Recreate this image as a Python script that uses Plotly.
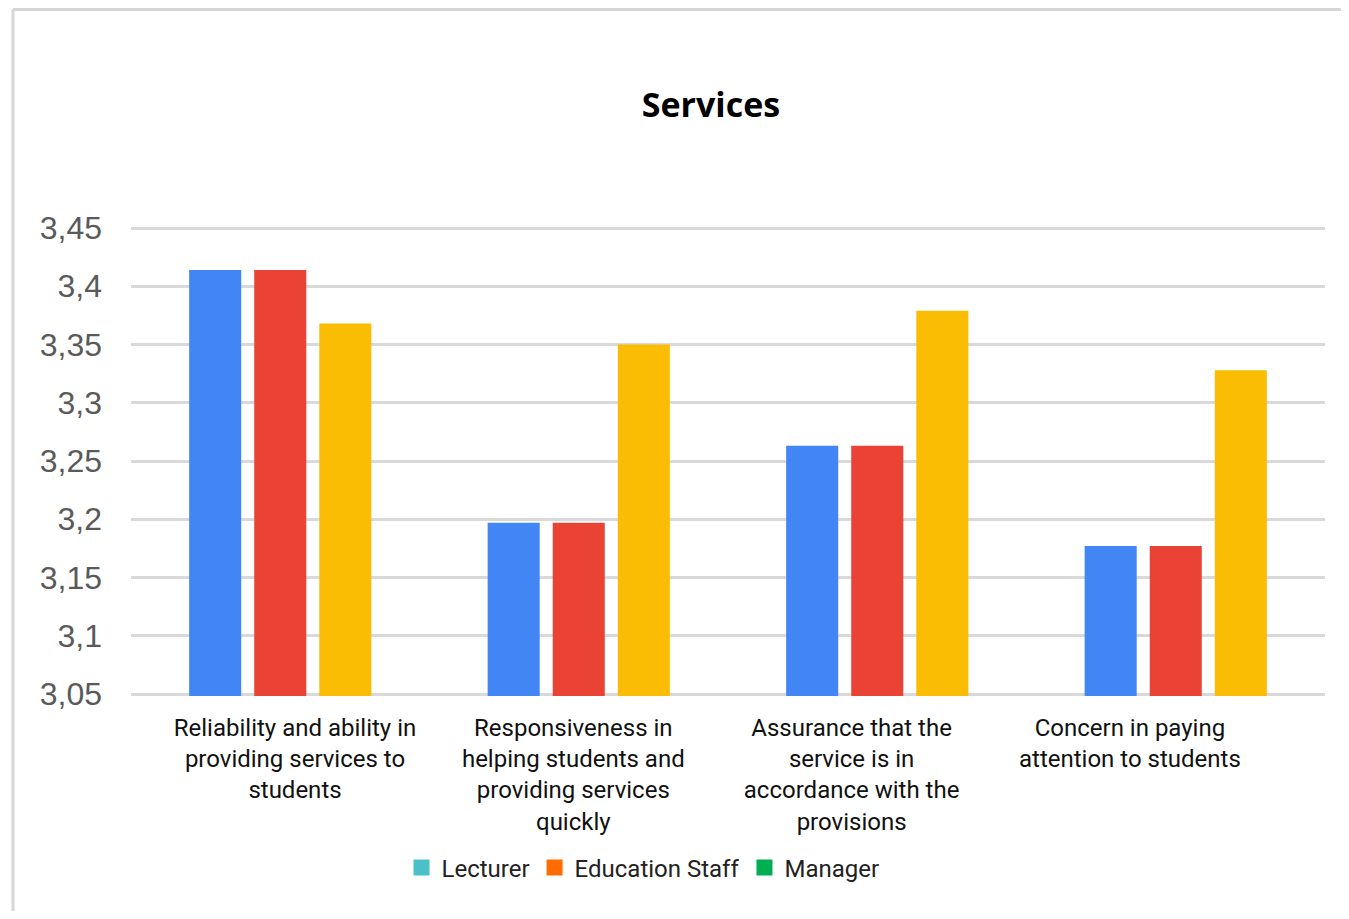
import plotly.graph_objects as go

categories = [
    "Reliability and ability in<br>providing services to<br>students",
    "Responsiveness in<br>helping students and<br>providing services<br>quickly",
    "Assurance that the<br>service is in<br>accordance with the<br>provisions",
    "Concern in paying<br>attention to students",
]
lecturer = [3.414, 3.197, 3.263, 3.177]
education_staff = [3.414, 3.197, 3.263, 3.177]
manager = [3.368, 3.350, 3.379, 3.328]

y_ticks = [3.05, 3.1, 3.15, 3.2, 3.25, 3.3, 3.35, 3.4, 3.45]
y_ticktext = ["3,05", "3,1", "3,15", "3,2", "3,25", "3,3", "3,35", "3,4", "3,45"]

series_names = ["Lecturer", "Education Staff", "Manager"]
bar_colors = ["#4285F4", "#EA4335", "#FBBC04"]
legend_colors = ["#4BC0C8", "#FF6D01", "#00B050"]

fig = go.Figure()
for name, vals, col in zip(series_names, [lecturer, education_staff, manager], bar_colors):
    fig.add_trace(go.Bar(x=categories, y=vals, name=name, marker_color=col,
                         marker_line_width=0, showlegend=False))

# legend swatches (colours differ from bars in the original)
for name, col in zip(series_names, legend_colors):
    fig.add_trace(go.Scatter(x=[None], y=[None], mode="markers", name=name,
                             marker=dict(symbol="square", size=16, color=col)))

# the category labels sit on their own even spacing, not under the bar groups
idx = list(range(len(categories)))
fig.add_trace(go.Scatter(x=idx, y=[None] * len(idx), xaxis="x2", mode="markers",
                         showlegend=False, hoverinfo="skip"))

# page body adds 8px, so work in shifted pixels
OFF = 8
FW, FH = 1349 - 2 * OFF, 919 - 2 * OFF
PAD = 2  # a little room so end gridlines are not clipped
L, T = 131 - OFF, 228 - OFF - PAD
W, H = 1194, 466 + 2 * PAD
def px(x): return (x - OFF - L) / W
def py(y): return (T + H - (y - OFF)) / H
pad_v = PAD * 0.4 / 466

lab0, lab_step = 295, 278.3
x2_range = [(131 - lab0) / lab_step, (131 + W - lab0) / lab_step]

# light frame round the chart
fig.add_shape(type="line", xref="paper", yref="paper", x0=px(13), x1=px(1360), y0=py(9.5), y1=py(9.5),
              line=dict(color="#d6d6d6", width=3))
fig.add_shape(type="line", xref="paper", yref="paper", x0=px(13), x1=px(13), y0=py(9.5), y1=py(930),
              line=dict(color="#d6d6d6", width=3))

fig.update_layout(
    width=FW, height=FH,
    margin=dict(l=L, r=FW - L - W, t=T, b=FH - T - H),
    paper_bgcolor="white", plot_bgcolor="white",
    barmode="group", bargap=0.346, bargroupgap=0.2,
    title=dict(text="<b>Services</b>", x=px(711), xref="paper", xanchor="center",
               y=1 - (105 - OFF) / FH, yanchor="middle",
               font=dict(family="Open Sans", size=34, color="black")),
    legend=dict(orientation="h", x=px(643), xanchor="center", y=py(868), yanchor="middle",
                font=dict(family="Roboto", size=24, color="#222"), itemwidth=30),
    font=dict(family="Roboto"),
    xaxis2=dict(overlaying="x", side="bottom", anchor="y", range=x2_range,
                tickvals=idx, ticktext=categories, showgrid=False, zeroline=False,
                showline=False, ticks="", ticklabelstandoff=15,
                tickfont=dict(family="Roboto", size=24, color="#111")),
)
fig.update_layout(xaxis=dict(showticklabels=False, showgrid=False, showline=False, ticks=""))
fig.update_yaxes(range=[y_ticks[0] - pad_v, y_ticks[-1] + pad_v], tickvals=y_ticks, ticktext=y_ticktext,
                 tickfont=dict(family="Liberation Sans", size=32, color="#5a5a5a"),
                 showgrid=True, gridcolor="#d9d9d9", gridwidth=3, zeroline=False,
                 ticklabelstandoff=28)

fig.write_html("out.html")
